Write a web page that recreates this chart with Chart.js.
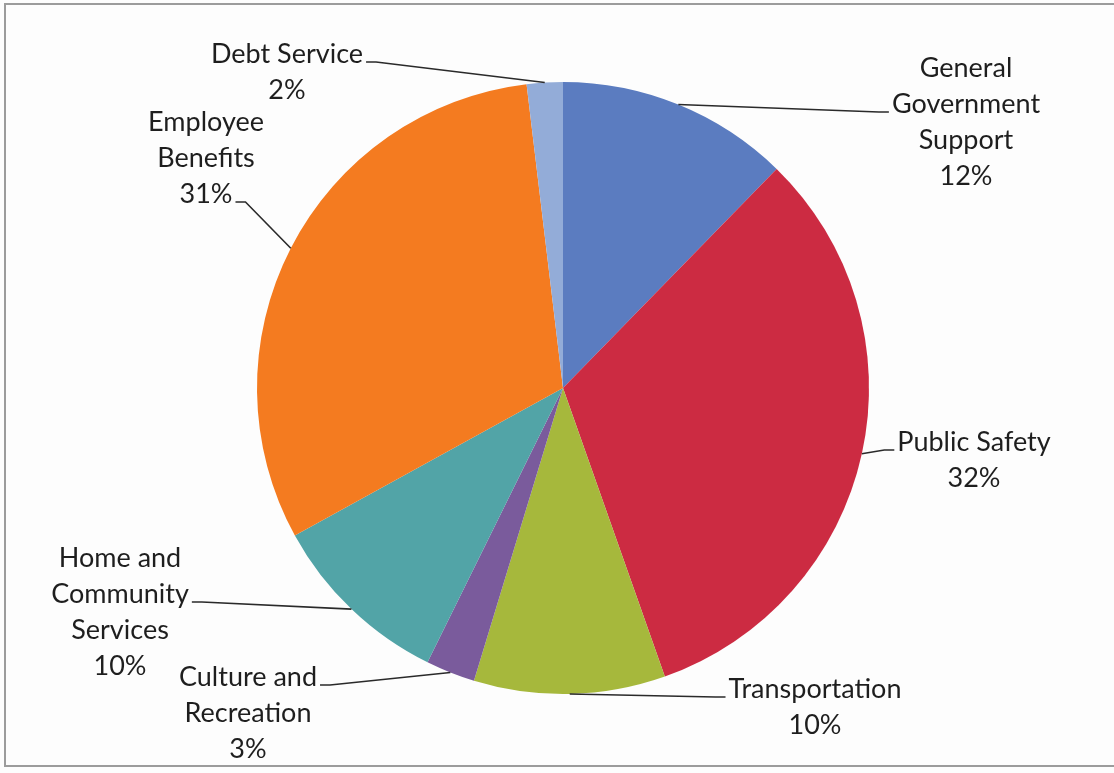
<!DOCTYPE html>
<html>
<head>
<meta charset="utf-8">
<script src="https://cdn.jsdelivr.net/npm/chart.js@4"></script>
<style>
  html, body { margin: 0; padding: 0; background: #fdfdfd; }
  canvas { display: block; }
</style>
</head>
<body>
<canvas id="spendingPie" width="1114" height="773"></canvas>
<script>
// slices, clockwise from 12 o'clock
const categories = [
  'General Government Support',
  'Public Safety',
  'Transportation',
  'Culture and Recreation',
  'Home and Community Services',
  'Employee Benefits',
  'Debt Service'
];
const shares = [12.3, 32.3, 10.1, 2.6, 9.7, 31.1, 1.9];
const sliceColors = ['#5b7cc0', '#cc2b42', '#a6b83c', '#7a5b9c', '#52a4a7', '#f47b20', '#93acd8'];

// where each label block sits, relative to the pie centre (px),
// which side the leader line leaves from and from which text line
const labelLayout = [
  { dx: 403, dy: -266, side: 'left', line: 1 },
  { dx: 411, dy: 72, side: 'left', line: 0 },
  { dx: 252, dy: 319, side: 'left', line: 0 },
  { dx: -315, dy: 325, side: 'right', line: 0 },
  { dx: -443, dy: 224, side: 'right', line: 1 },
  { dx: -357, dy: -230, side: 'right', line: 2 },
  { dx: -276, dy: -316, side: 'right', line: 0 }
];

const FONT = '27px Lato';
const LINE_H = 36;
const WRAP = 165;

function wrapWords(ctx, text) {
  const words = text.split(' ');
  const lines = [];
  let cur = '';
  words.forEach(w => {
    const test = cur ? cur + ' ' + w : w;
    if (cur && ctx.measureText(test).width > WRAP) {
      lines.push(cur);
      cur = w;
    } else {
      cur = test;
    }
  });
  if (cur) lines.push(cur);
  return lines;
}

const frameAndLabels = {
  id: 'frameAndLabels',
  beforeDraw(chart) {
    const ctx = chart.ctx;
    ctx.save();
    ctx.fillStyle = '#fdfdfd';
    ctx.fillRect(0, 0, chart.width, chart.height);
    ctx.strokeStyle = '#9c9c9c';
    ctx.lineWidth = 2;
    ctx.strokeRect(5, 4, chart.width + 10, 762);
    ctx.restore();
  },
  afterDraw(chart) {
    const ctx = chart.ctx;
    const arcs = chart.getDatasetMeta(0).data;
    const values = chart.data.datasets[0].data;
    const total = values.reduce((a, b) => a + b, 0);
    ctx.save();
    ctx.font = FONT;
    ctx.textAlign = 'center';
    ctx.textBaseline = 'middle';
    arcs.forEach((arc, i) => {
      const lay = labelLayout[i];
      const lines = wrapWords(ctx, chart.data.labels[i]);
      lines.push(Math.round(values[i] / total * 100) + '%');
      const cx = arc.x + lay.dx;
      const cy = arc.y + lay.dy;
      const top = cy - (lines.length - 1) * LINE_H / 2;
      ctx.fillStyle = '#1e1e1e';
      lines.forEach((t, k) => ctx.fillText(t, cx, top + k * LINE_H));

      // leader line: from label edge, short stub, then to arc mid point
      const mid = (arc.startAngle + arc.endAngle) / 2;
      const ex = arc.x + Math.cos(mid) * arc.outerRadius;
      const ey = arc.y + Math.sin(mid) * arc.outerRadius;
      const w = ctx.measureText(lines[lay.line]).width;
      const ly = top + lay.line * LINE_H + 8;
      const lx = lay.side === 'left' ? cx - w / 2 - 3 : cx + w / 2 + 3;
      const stub = lay.side === 'left' ? lx - 10 : lx + 10;
      ctx.strokeStyle = '#2a2a2a';
      ctx.lineWidth = 1.6;
      ctx.beginPath();
      ctx.moveTo(lx, ly);
      ctx.lineTo(stub, ly);
      ctx.lineTo(ex, ey);
      ctx.stroke();
    });
    ctx.restore();
  }
};

new Chart(document.getElementById('spendingPie'), {
  type: 'pie',
  data: {
    labels: categories,
    datasets: [{
      data: shares,
      backgroundColor: sliceColors,
      borderWidth: 0
    }]
  },
  options: {
    responsive: false,
    animation: false,
    layout: { padding: { left: 12, right: 0, top: 82, bottom: 79 } },
    plugins: {
      legend: { display: false },
      tooltip: { enabled: false }
    }
  },
  plugins: [frameAndLabels]
});
</script>
</body>
</html>
